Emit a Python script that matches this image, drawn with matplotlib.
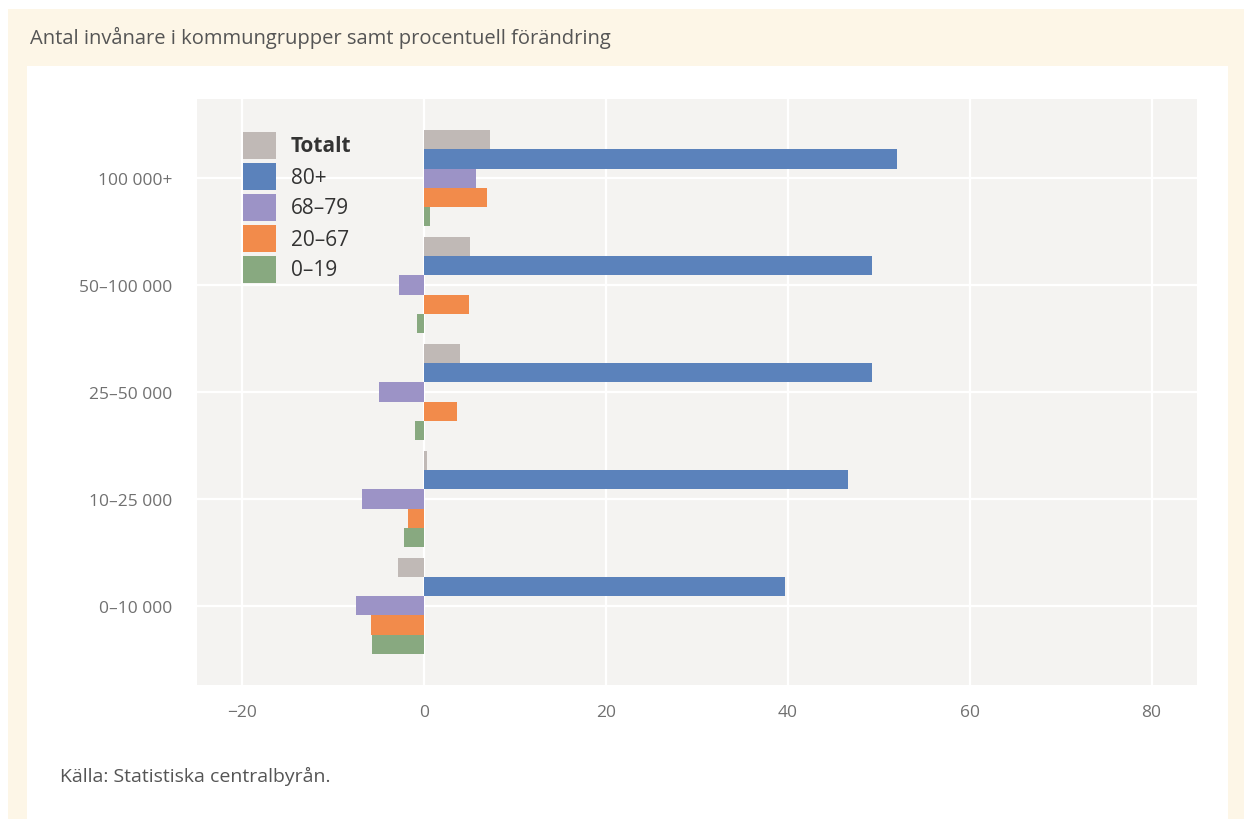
import matplotlib
matplotlib.use("Agg")
import matplotlib.pyplot as plt
from matplotlib.patches import Rectangle
import numpy as np

plt.rcParams['font.family'] = ['Open Sans', 'DejaVu Sans']

categories = ["100 000+", "50\u2013100 000", "25\u201350 000", "10\u201325 000", "0\u201310 000"]
series_names = ["Totalt", "80+", "68\u201379", "20\u201367", "0\u201319"]
totalt = [7.2, 5.0, 3.9, 0.3, -2.9]
age80 = [52.0, 49.3, 49.3, 46.6, 39.7]
age68_79 = [5.7, -2.8, -5.0, -6.9, -7.5]
age20_67 = [6.9, 4.9, 3.6, -1.8, -5.9]
age0_19 = [0.6, -0.8, -1.0, -2.2, -5.7]
xticks = [-20, 0, 20, 40, 60, 80]
title = "Antal inv\u00e5nare i kommungrupper samt procentuell f\u00f6r\u00e4ndring"
source = "K\u00e4lla: Statistiska centralbyr\u00e5n."

colors = ["#c0b9b6", "#5b82bb", "#9c93c6", "#f28b4b", "#88a980"]
series = [totalt, age80, age68_79, age20_67, age0_19]

W, H = 1244, 820
fig = plt.figure(figsize=(W / 100, H / 100), dpi=100)
fig.patch.set_facecolor("white")

def fr(x0, y0, x1, y1):
    return (x0 / W, 1 - y1 / H, (x1 - x0) / W, (y1 - y0) / H)

# cream panel
x, y, w, h = fr(8, 10, 1244, 820)
fig.add_artist(Rectangle((x, y), w, h, transform=fig.transFigure, facecolor="#fdf6e7", edgecolor="none", zorder=-10))
# white inner panel
x, y, w, h = fr(27, 67, 1228, 820)
fig.add_artist(Rectangle((x, y), w, h, transform=fig.transFigure, facecolor="white", edgecolor="none", zorder=-9))

fig.text(30 / W, 1 - 38 / H, title, fontsize=14.5, color="#555555", va="center", ha="left")
fig.text(60 / W, 1 - 776 / H, source, fontsize=14, color="#555555", va="center", ha="left")

ax = fig.add_axes(fr(197, 100, 1197, 686))
ax.set_facecolor("#f4f3f1")

yidx = np.arange(len(categories))
bh = 0.18
for i, (vals, c, name) in enumerate(zip(series, colors, series_names)):
    ax.barh(yidx + (i - 2) * bh, vals, height=bh, color=c, label=name, zorder=3)

ax.set_xlim(-25, 85)
ax.set_ylim(len(categories) - 1 + 0.74, -0.74)
ax.set_xticks(xticks)
ax.set_xticklabels(["\u221220" if t < 0 else str(t) for t in xticks])
ax.set_yticks(yidx)
ax.set_yticklabels(categories)
ax.grid(True, color="white", linewidth=1.6, zorder=1)
ax.set_axisbelow(True)
for s in ax.spines.values():
    s.set_visible(False)
ax.tick_params(length=0, labelsize=12.5, labelcolor="#707070")
ax.tick_params(axis="x", pad=14)
ax.tick_params(axis="y", pad=18)

# legend (manual, figure pixel positions)
for i, (c, name) in enumerate(zip(colors, series_names)):
    top = 133 + i * 31
    x, y, w, h = fr(243, top, 276, top + 27)
    fig.add_artist(Rectangle((x, y), w, h, transform=fig.transFigure, facecolor=c, edgecolor="none", zorder=5))
    fig.text(291 / W, 1 - (top + 14) / H, name, fontsize=15, color="#333333", va="center", ha="left",
             fontweight="bold" if i == 0 else "normal", zorder=5)

fig.savefig("out.png", dpi=100, facecolor=fig.get_facecolor())
